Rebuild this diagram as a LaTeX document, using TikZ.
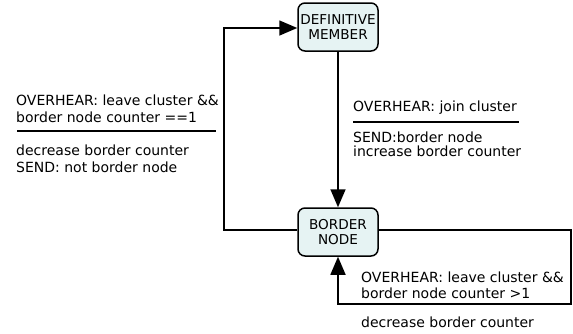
\documentclass[tikz,border=0pt]{standalone}
\usepackage{fontspec}
\setmainfont{DejaVu Sans}
\usetikzlibrary{arrows.meta}
\definecolor{statefill}{HTML}{E6F3F3}
\begin{document}
\begin{tikzpicture}[x=1pt,y=-1pt,
  state/.style={draw, line width=1.5pt, rounded corners=7pt, fill=statefill,
    minimum width=80pt, minimum height=48pt, inner sep=0pt, align=center,
    font=\fontsize{13.6}{14.5}\selectfont},
  edge/.style={line width=1.6pt, -{Triangle[length=18pt,width=15pt]}},
  lbl/.style={anchor=west, inner sep=0pt, font=\fontsize{14}{15}\selectfont}]
\useasboundingbox (0,0) rectangle (573,333);
\node[state] (dm) at (338,27) {DEFINITIVE\\MEMBER};
\node[state] (bn) at (338,232) {BORDER\\NODE};
\coordinate (ltop) at (224,28);
\coordinate (lbot) at (224,230);
\coordinate (rtop) at (571,230);
\coordinate (rbot) at (571,304);
\coordinate (mbot) at (338,304);
% join cluster
\draw[edge] (dm) -- (bn);
% leave cluster, last neighbour
\draw[edge] (bn.west |- lbot) -- (lbot) -- (ltop) -- (dm.west |- ltop);
% leave cluster, more neighbours
\draw[edge] (bn.east |- rtop) -- (rtop) -- (rbot) -- (mbot) -- (bn.south);
% labels
\node[lbl] (l1) at (16,100) {OVERHEAR: leave cluster \&\&};
\node[lbl] (l2) at (16,117) {border node counter ==1};
\draw[line width=1.3pt] (17,131) -- (216,131);
\node[lbl] (l3) at (16,150) {decrease border counter};
\node[lbl] (l4) at (16,167) {SEND: not border node};
\node[lbl] (m1) at (353,108) {OVERHEAR: join cluster};
\draw[line width=1.3pt] (353,122) -- (519,122);
\node[lbl] (m2) at (353,137) {SEND:border node};
\node[lbl] (m3) at (353,151) {increase border counter};
\node[lbl] (r1) at (361,277) {OVERHEAR: leave cluster \&\&};
\node[lbl] (r2) at (361,293) {border node counter >1};
\node[lbl] (r3) at (361,322) {decrease border counter};
\end{tikzpicture}
\end{document}
